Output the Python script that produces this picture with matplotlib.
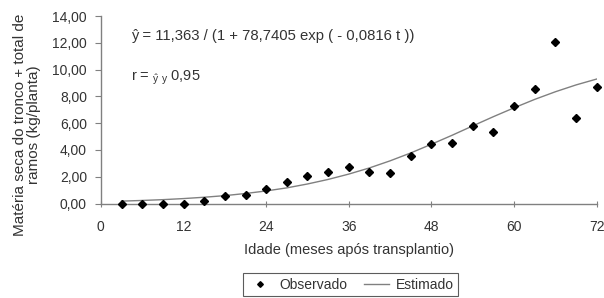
import matplotlib.pyplot as plt
from matplotlib.ticker import FuncFormatter

plt.rcParams['font.family'] = ['Liberation Sans', 'DejaVu Sans']
plt.rcParams['mathtext.fontset'] = 'custom'
plt.rcParams['mathtext.rm'] = 'Liberation Sans'

# observed (meses, kg/planta)
idade = [3, 6, 9, 12, 15, 18, 21, 24, 27, 30, 33, 36,
         39, 42, 45, 48, 51, 54, 57, 60, 63, 66, 69, 72]
observado = [0.0, 0.0, 0.0, 0.0, 0.2, 0.55, 0.65, 1.1, 1.6, 2.07, 2.35, 2.75,
             2.35, 2.28, 3.54, 4.42, 4.54, 5.78, 5.36, 7.28, 8.54, 12.03, 6.4, 8.67]
# estimated curve as drawn
estimado = [0.18, 0.23, 0.29, 0.37, 0.47, 0.59, 0.75, 0.94, 1.17, 1.46, 1.80, 2.20,
            2.66, 3.19, 3.78, 4.43, 5.10, 5.80, 6.49, 7.15, 7.78, 8.35, 8.86, 9.30]

xticks = [0, 12, 24, 36, 48, 60, 72]
yticks = [0, 2, 4, 6, 8, 10, 12, 14]

txt = '#333333'
fig = plt.figure(figsize=(6.04, 2.98), dpi=100)
ax = fig.add_axes([0.167, 0.317, 0.821, 0.629])

ax.plot(idade, observado, linestyle='none', marker='D', markersize=3.6,
        color='black', label='Observado', clip_on=False, zorder=3)
ax.plot(idade, estimado, color='#808080', linewidth=1.0, label='Estimado')

ax.set_xlim(0, 72)
ax.set_ylim(0, 14)
ax.set_xticks(xticks)
ax.set_yticks(yticks)
ax.yaxis.set_major_formatter(FuncFormatter(lambda v, p: f'{v:.2f}'.replace('.', ',')))

for s in ['top', 'right']:
    ax.spines[s].set_visible(False)
for s in ['left', 'bottom']:
    ax.spines[s].set_color('#808080')
    ax.spines[s].set_linewidth(1.0)
ax.tick_params(axis='x', direction='inout', length=5, color='#808080',
               labelsize=10, labelcolor=txt, pad=9)
ax.tick_params(axis='y', direction='out', length=4, color='#808080',
               labelsize=10, labelcolor=txt, pad=6)

ax.set_xlabel('Idade (meses após transplantio)', fontsize=10.5, color=txt, labelpad=7)
ax.set_ylabel('Matéria seca do tronco + total de\nramos (kg/planta)', fontsize=11,
              color=txt, linespacing=1.0)
ax.yaxis.set_label_coords(-0.12, 0.42)

ax.text(4.4, 12.5, 'ŷ = 11,363 / (1 + 78,7405 exp ( - 0,0816 t ))', fontsize=10.7,
        color=txt, va='center')
ax.text(4.4, 9.4, r'r = $_{\mathregular{\hat{y}\ y}}$ 0,95', fontsize=10.5,
        color=txt, va='center')

leg = fig.legend(loc='center', bbox_to_anchor=(0.58, 0.045), ncol=2, fontsize=10,
                 frameon=True, fancybox=False, edgecolor='#333333', handlelength=1.8,
                 columnspacing=1.2, borderpad=0.3, handletextpad=0.5, markerscale=0.8)
leg.get_frame().set_linewidth(0.8)
for t in leg.get_texts():
    t.set_color(txt)

fig.savefig('out.png', dpi=100)
